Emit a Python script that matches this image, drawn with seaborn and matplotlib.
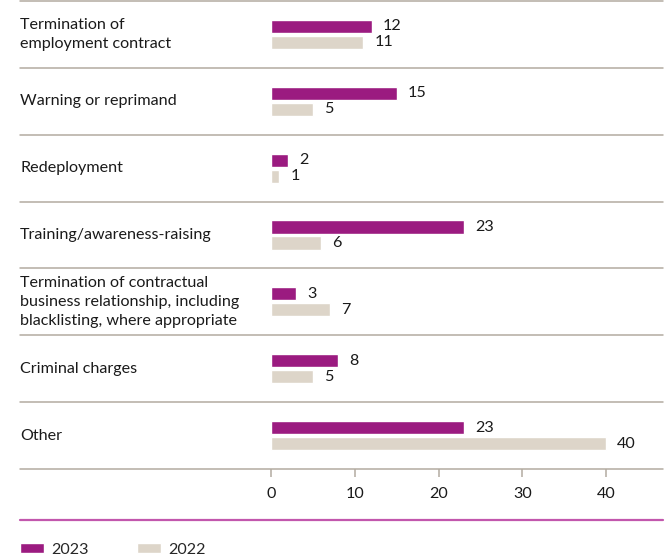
import matplotlib
matplotlib.use("Agg")
import matplotlib.pyplot as plt
from matplotlib.lines import Line2D
import seaborn as sns
import pandas as pd

# chart data
categories = [
    "Termination of\nemployment contract",
    "Warning or reprimand",
    "Redeployment",
    "Training/awareness-raising",
    "Termination of contractual\nbusiness relationship, including\nblacklisting, where appropriate",
    "Criminal charges",
    "Other",
]
values_2023 = [12, 15, 2, 23, 3, 8, 23]
values_2022 = [11, 5, 1, 6, 7, 5, 40]
years = ["2023", "2022"]
x_ticks = [0, 10, 20, 30, 40]

PURPLE = "#9b1b80"
BEIGE = "#ddd5c9"
GREY = "#b3aba1"
RULE = "#c257ad"
FS = 11.6

df = pd.DataFrame({
    "category": categories * 2,
    "value": values_2023 + values_2022,
    "year": [years[0]] * len(categories) + [years[1]] * len(categories),
})

sns.set_style("white")
plt.rcParams["font.family"] = ["Lato", "DejaVu Sans"]
plt.rcParams["font.size"] = FS

W, H = 670, 558
fig = plt.figure(figsize=(W / 100, H / 100), dpi=100)
# axes spans from the zero line to the right edge of the rules
ax = fig.add_axes([271 / W, 1 - 469 / H, (663 - 271) / W, (469 - 1) / H])

sns.barplot(data=df, y="category", x="value", hue="year", orient="h",
            palette=[PURPLE, BEIGE], saturation=1, width=0.48, gap=0.18,
            order=categories, hue_order=years, ax=ax)

ax.set_xlim(0, 46.8)
ax.set_ylim(len(categories) - 0.5, -0.5)

for side in ["top", "right", "left", "bottom"]:
    ax.spines[side].set_visible(False)

# separator rules, reaching out to the label column
left = (20 - 271) / (663 - 271)
for i in range(len(categories) + 1):
    ax.axhline(i - 0.5, xmin=left, xmax=1, color=GREY, lw=1.1, clip_on=False)

ax.set_xticks(x_ticks)
ax.set_xticklabels([str(t) for t in x_ticks])
ax.tick_params(axis="x", bottom=True, length=6, width=1.1, color=GREY,
               pad=7, labelsize=FS, labelcolor="#1a1a1a")
ax.set_yticks([])
ax.set_xlabel("")
ax.set_ylabel("")

# category labels on the left
for i, cat in enumerate(categories):
    ax.text(left, i, cat, transform=ax.get_yaxis_transform(), ha="left",
            va="center", fontsize=FS, linespacing=1.45, color="#1a1a1a")

for container in ax.containers:
    ax.bar_label(container, padding=8, fontsize=FS, color="#1a1a1a")

# purple rule above the legend
fig.add_artist(Line2D([20 / W, 663 / W], [1 - 520 / H, 1 - 520 / H],
                      color=RULE, lw=1.6))

sns.move_legend(ax, loc="center left", bbox_to_anchor=(20 / W, 1 - 550 / H),
                bbox_transform=fig.transFigure, ncol=2, frameon=False,
                title=None, handlelength=1.5, handleheight=0.55,
                handletextpad=0.45, columnspacing=3.0, borderaxespad=0,
                borderpad=0, fontsize=FS)

fig.savefig("out.png", dpi=100)
